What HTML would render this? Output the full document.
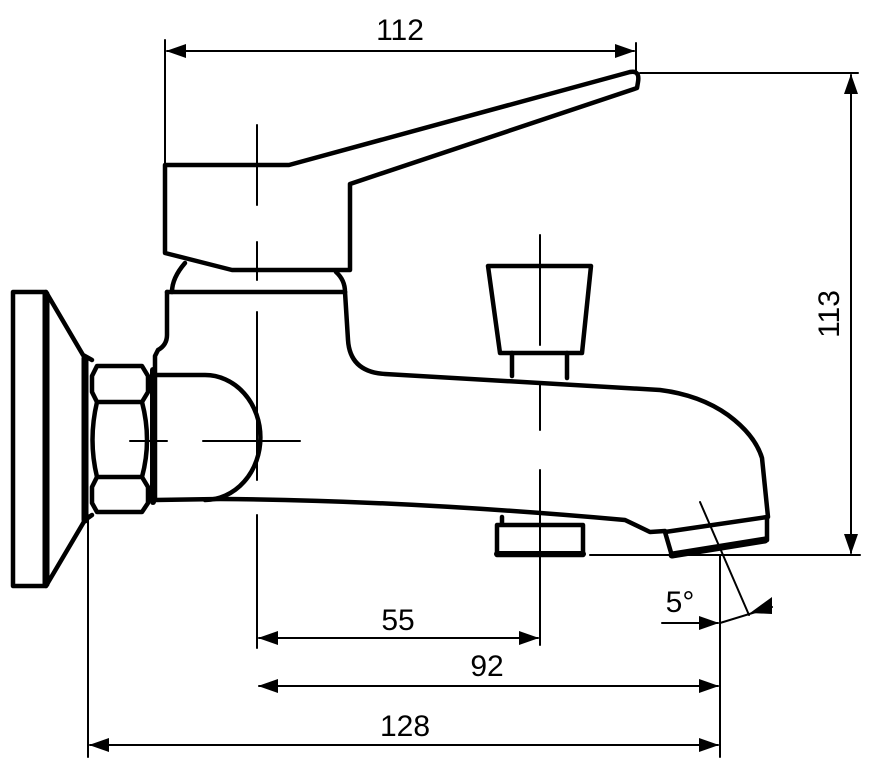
<!DOCTYPE html>
<html><head><style>html,body{margin:0;padding:0;background:#fff}svg{display:block}</style></head>
<body>
<svg width="873" height="771" viewBox="0 0 873 771" xmlns="http://www.w3.org/2000/svg">
<defs>
<marker id="a" markerWidth="20" markerHeight="14" refX="19" refY="7" orient="auto-start-reverse" markerUnits="userSpaceOnUse"><path d="M0,0 L20,7 L0,14 Z" fill="#000"/></marker>
</defs>
<g fill="none" stroke="#000" stroke-linejoin="round" stroke-linecap="round">
<g stroke-width="2">
<line x1="165" y1="40" x2="165" y2="165"/>
<line x1="636" y1="43" x2="636" y2="73"/>
<line x1="167" y1="51" x2="634" y2="51" marker-start="url(#a)" marker-end="url(#a)"/>
<line x1="640" y1="73" x2="858" y2="73"/>
<line x1="590" y1="555" x2="860" y2="555"/>
<line x1="851" y1="75" x2="851" y2="553" marker-start="url(#a)" marker-end="url(#a)"/>
<line x1="88" y1="515" x2="88" y2="757"/>
<line x1="720" y1="555" x2="720" y2="757"/>
<line x1="259" y1="638" x2="538" y2="638" marker-start="url(#a)" marker-end="url(#a)"/>
<line x1="259" y1="686" x2="718" y2="686" marker-start="url(#a)" marker-end="url(#a)"/>
<line x1="90" y1="745" x2="718" y2="745" marker-start="url(#a)" marker-end="url(#a)"/>
<line x1="700" y1="502" x2="749" y2="615"/>
<line x1="662" y1="623" x2="718" y2="623" marker-end="url(#a)"/>
<line x1="720" y1="623" x2="772" y2="607"/>
<path d="M750,613 L772,597 L772,614 Z" fill="#000" stroke="none"/>
<line x1="257" y1="125" x2="257" y2="205"/>
<line x1="257" y1="242" x2="257" y2="280"/>
<line x1="257" y1="312" x2="257" y2="480"/>
<line x1="257" y1="515" x2="257" y2="648"/>
<line x1="540" y1="235" x2="540" y2="345"/>
<line x1="540" y1="385" x2="540" y2="430"/>
<line x1="540" y1="470" x2="540" y2="645"/>
<line x1="130" y1="441" x2="167" y2="441"/>
<line x1="203" y1="441" x2="300" y2="441"/>
</g>
<g stroke-width="4.5">
<path d="M165,165 L289,165 L630,72 Q640,70 638,82 L637,88 L350,184 L350,270 L232,270 L165,253 Z"/>
<path d="M185,263 Q172,278 172,292"/>
<path d="M336,272 Q345,280 345,292"/>
<line x1="167" y1="292" x2="345" y2="292"/>
<path d="M167,292 L167,335 Q167,345 158,350 L155,356 L155,500"/>
<path d="M345,292 L348,340 Q350,372 385,374 L660,390 Q700,395 728,415 Q755,435 762,458 L768,517"/>
<path d="M155,500 L220,499 Q400,500 625,520 L650,532 L665,531"/>
<path d="M155,375 L205,375 A55,62 0 0 1 205,500"/>
<path d="M665,532 L767,517 L767,540 L672,556 Z"/>
<line x1="672" y1="555" x2="765" y2="540" stroke-width="7"/>
<path d="M502,517 L502,524 M497,525 L583,525 L583,555 L497,555 Z"/>
<line x1="497" y1="554" x2="583" y2="554" stroke-width="6"/>
<path d="M488,266 L591,266 L582,353 L500,353 Z"/>
<line x1="512" y1="353" x2="512" y2="376"/>
<line x1="567" y1="353" x2="567" y2="378"/>
<path d="M97,366 L142,366 L148,376 L148,392 L142,402 L97,402 L92,392 L92,376 Z"/>
<path d="M97,477 L142,477 L148,487 L148,503 L142,512 L97,512 L92,503 L92,487 Z"/>
<path d="M97,402 Q88,440 97,477 M142,402 Q152,440 142,477"/>
<line x1="153" y1="370" x2="153" y2="502" stroke-width="6"/>
<line x1="85" y1="358" x2="85" y2="520" stroke-width="7"/>
<rect x="13" y="292" width="33" height="294"/>
<line x1="46" y1="294" x2="46" y2="584" stroke-width="7"/>
<path d="M46,292 L83,355 L92,360 M46,586 L85,520 L92,515"/>
</g>
</g>
<g font-family="'Liberation Sans',sans-serif" font-size="30" fill="#000" text-anchor="middle">
<text x="400" y="40">112</text>
<text x="398" y="630">55</text>
<text x="487" y="676">92</text>
<text x="405" y="736">128</text>
<text x="680" y="612">5°</text>
<text transform="translate(839,314) rotate(-90)">113</text>
</g>
</svg>
</body></html>
